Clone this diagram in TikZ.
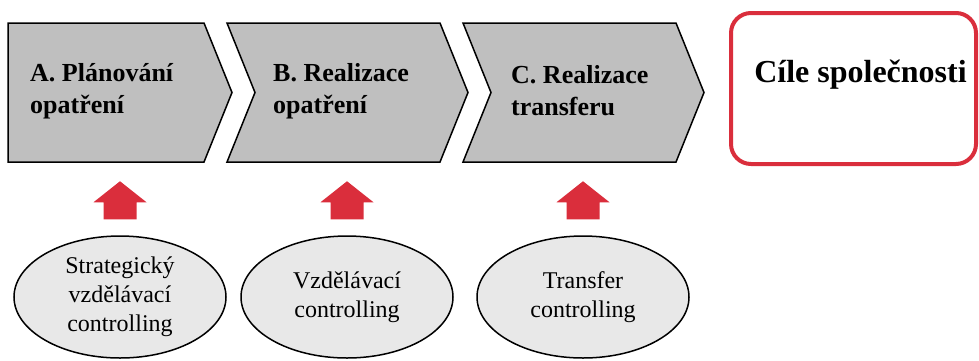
\documentclass[tikz,border=0pt]{standalone}
\usepackage{fontspec}
\setmainfont{Liberation Serif}
\usetikzlibrary{shapes.geometric,positioning}
\definecolor{phasegray}{RGB}{191,191,191}
\definecolor{ctrlgray}{RGB}{232,232,232}
\definecolor{goalred}{RGB}{218,46,60}

\begin{document}
\begin{tikzpicture}[x=1pt,y=-1pt,
	phase/.style={draw=black,line width=1.5pt,fill=phasegray,line join=miter},
	phasetext/.style={anchor=west,align=left,inner sep=0pt,font=\fontsize{26}{32}\selectfont\bfseries},
	goalbox/.style={draw=goalred,line width=4pt,rounded corners=20pt,minimum width=245pt,minimum height=151pt,inner sep=0pt},
	goaltext/.style={inner sep=0pt,font=\fontsize{32}{36}\selectfont\bfseries},
	ctrl/.style={ellipse,draw=black,line width=1.5pt,fill=ctrlgray,minimum width=212pt,minimum height=122pt,inner sep=0pt,align=center,font=\fontsize{24}{29}\selectfont},
	uparrow/.style={fill=goalred}]
	\useasboundingbox (0,0) rectangle (979,360);

	\filldraw[phase] (8,23) -- (204,23) -- (232,92.5) -- (204,162) -- (8,162) -- cycle;
	\foreach \x in {236,472} \filldraw[phase] (\x-9,23) -- (\x+204,23) -- (\x+232,92.5) -- (\x+204,162) -- (\x-9,162) -- (\x+19,92.5) -- cycle;

	\node[phasetext] (pa) at (30,91) {A. Plánování\\opatření};
	\node[phasetext] (pb) at (273,91) {B. Realizace\\opatření};
	\node[phasetext] (pc) at (511,91) {C. Realizace\\transferu};

	\node[goalbox] (goal) at (853.5,88.5) {};
	\node[goaltext] (goaltext) at ([xshift=7pt,yshift=13.5pt]goal.center) {Cíle společnosti};

	\node[ctrl] (c1) at (120,297) {Strategický\\vzdělávací\\controlling};
	\node[ctrl] (c2) at (347,297) {Vzdělávací\\controlling};
	\node[ctrl] (c3) at (583,297) {Transfer\\controlling};

	\foreach \c in {c1,c2,c3} \fill[uparrow] ([yshift=16pt]\c.north) ++(-16.5,0) -- ++(0,-17) -- ++(-10,0) -- ++(26.5,-21) -- ++(26.5,21) -- ++(-10,0) -- ++(0,17) -- cycle;
\end{tikzpicture}
\end{document}
